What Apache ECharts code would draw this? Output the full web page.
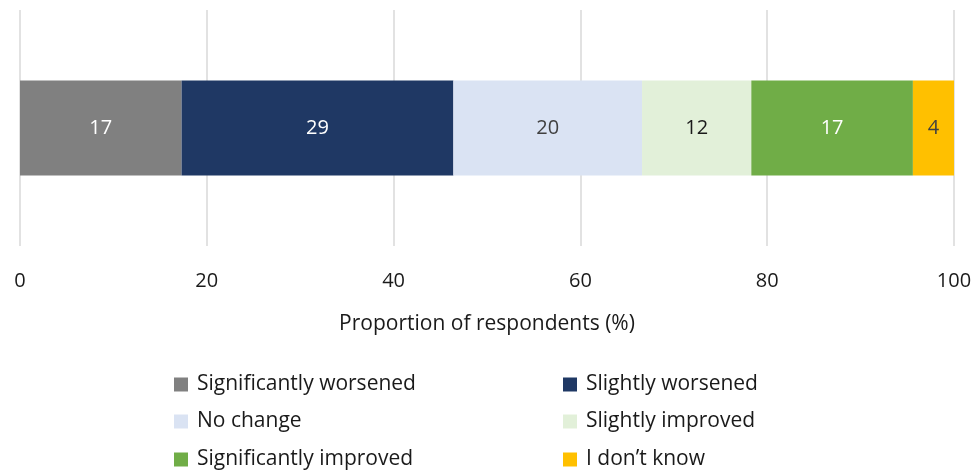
<!DOCTYPE html>
<html>
<head>
<meta charset="utf-8">
<script src="https://cdn.jsdelivr.net/npm/echarts@6/dist/echarts.min.js"></script>
<style>
  html, body { margin: 0; padding: 0; background: #fff; }
  #chart { width: 975px; height: 472px; }
</style>
</head>
<body>
<div id="chart"></div>
<script>
// response categories, share of respondents (%)
var seriesNames = ["Significantly worsened", "Slightly worsened", "No change", "Slightly improved", "Significantly improved", "I don\u2019t know"];
var seriesValues = [17.3, 29.1, 20.2, 11.7, 17.3, 4.4];
var seriesColors = ["#808080", "#1f3864", "#dae3f3", "#e2f0d9", "#70ad47", "#ffc000"];
var labelColors = ["#ffffff", "#ffffff", "#404040", "#1a1a1a", "#ffffff", "#404040"];
var xTicks = [0, 20, 40, 60, 80, 100];

var FONT = "Open Sans";
var chart = echarts.init(document.getElementById("chart"));

var series = seriesNames.map(function (name, i) {
    return {
        name: name,
        type: "bar",
        stack: "total",
        barWidth: 95,
        data: [seriesValues[i]],
        itemStyle: { color: seriesColors[i] },
        label: {
            show: true,
            position: "inside",
            color: labelColors[i],
            fontFamily: FONT,
            fontSize: 20,
            formatter: function (p) { return Math.round(p.value); }
        }
    };
});

// one legend per item so the two columns line up
var legendPos = [
    { left: 174, top: 374 }, { left: 563, top: 374 },
    { left: 174, top: 411 }, { left: 563, top: 411 },
    { left: 174, top: 449 }, { left: 563, top: 449 }
];
var legends = seriesNames.map(function (name, i) {
    return {
        data: [name],
        left: legendPos[i].left,
        top: legendPos[i].top,
        padding: 0,
        itemWidth: 14,
        itemHeight: 14,
        itemGap: 0,
        icon: "rect",
        selectedMode: false,
        textStyle: { fontFamily: FONT, fontSize: 21, color: "#1a1a1a", padding: [0, 0, 0, 4] }
    };
});

chart.setOption({
    animation: false,
    legend: legends,
    grid: { left: 20, right: 21, top: 10, bottom: 226 },
    xAxis: {
        type: "value",
        min: 0,
        max: 100,
        interval: 20,
        name: "Proportion of respondents (%)",
        nameLocation: "middle",
        nameGap: 68,
        nameTextStyle: { fontFamily: FONT, fontSize: 21, color: "#1a1a1a" },
        axisLine: { show: false },
        axisTick: { show: false },
        axisLabel: {
            margin: 25,
            fontFamily: FONT,
            fontSize: 20,
            color: "#1a1a1a",
            formatter: function (v) { return xTicks.indexOf(v) >= 0 ? v : ""; }
        },
        splitLine: { show: true, lineStyle: { color: "#d9d9d9", width: 1.5 } }
    },
    yAxis: {
        type: "category",
        data: [""],
        axisLine: { show: false },
        axisTick: { show: false },
        axisLabel: { show: false }
    },
    series: series
});
</script>
</body>
</html>
